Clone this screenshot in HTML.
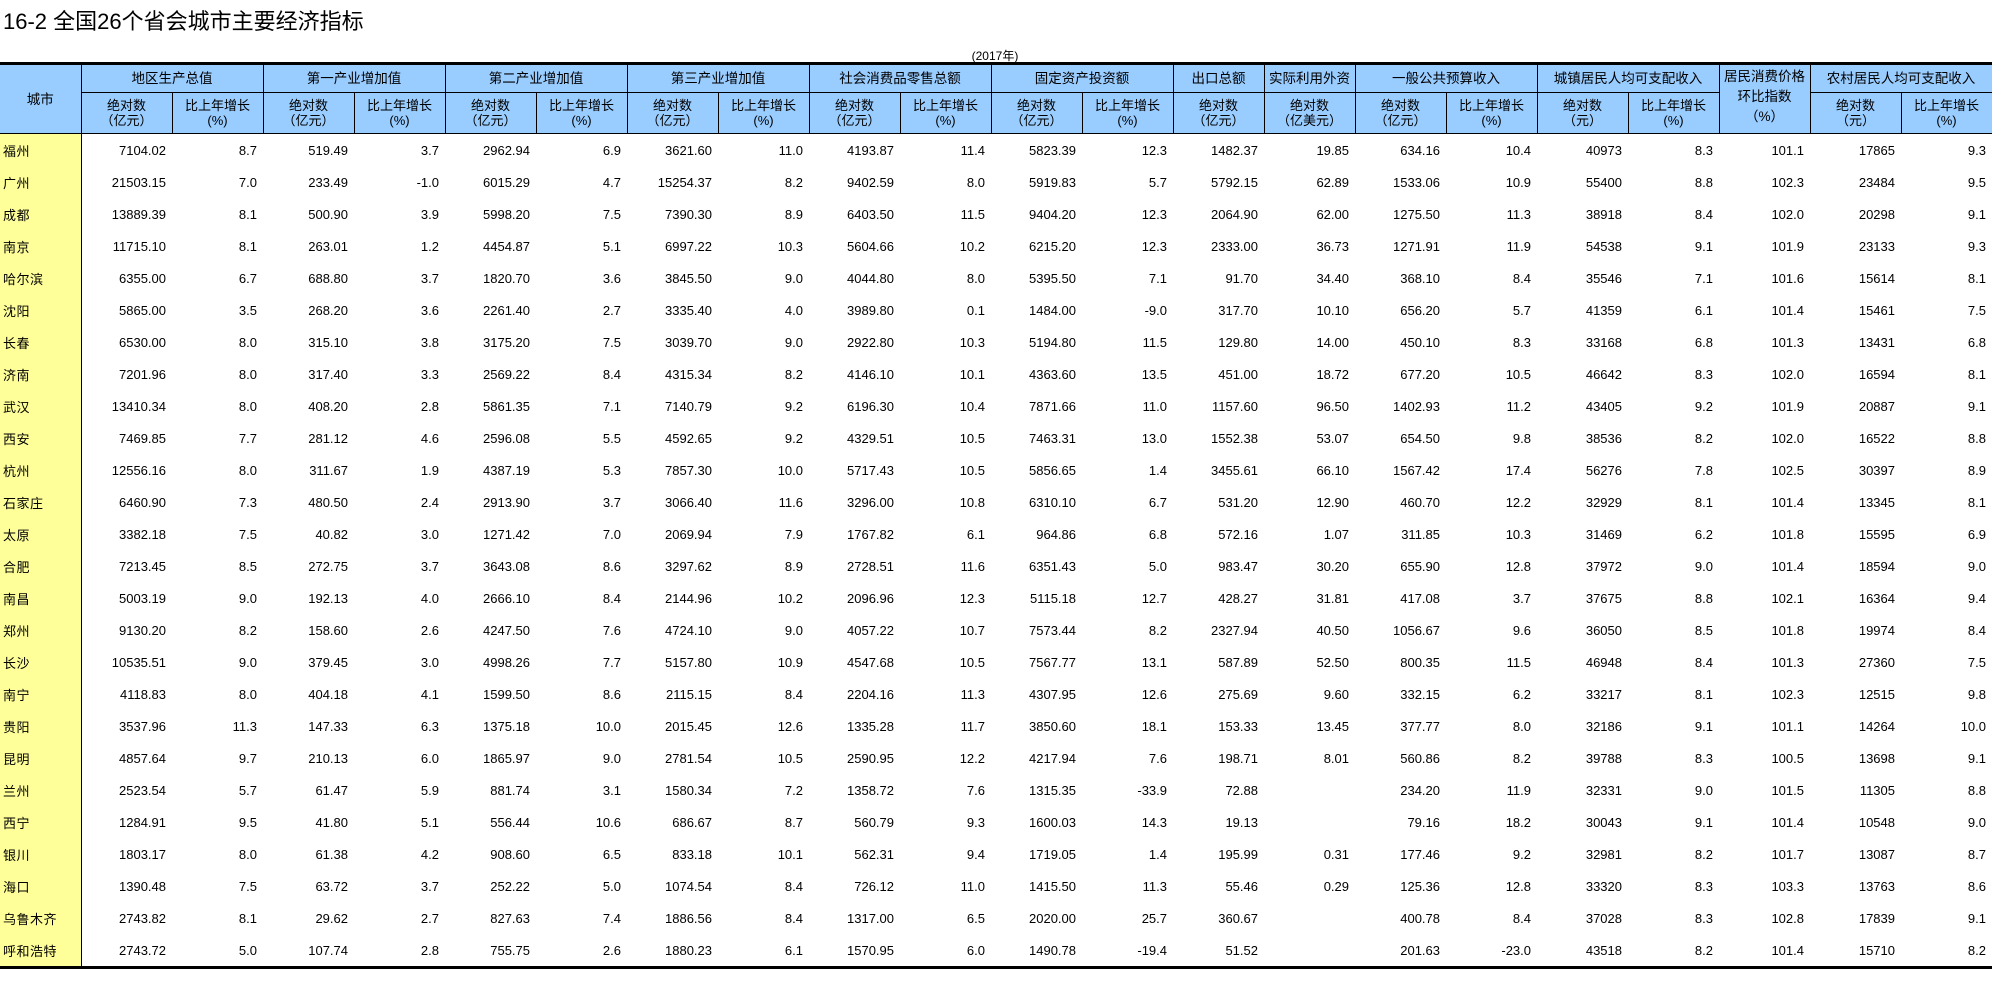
<!DOCTYPE html>
<html><head><meta charset="utf-8">
<style>
body{margin:0;background:#fff;width:1992px;height:999px;position:relative;overflow:hidden;font-family:"Liberation Sans","Noto Sans CJK SC",sans-serif;}
#title{position:absolute;left:3px;top:8px;font-size:22px;line-height:27px;color:#000;}
#yr{position:absolute;left:945px;width:100px;top:48px;text-align:center;font-size:12px;line-height:16px;}
table{position:absolute;left:0;top:62px;width:1992px;border-collapse:collapse;table-layout:fixed;border-top:3px solid #000;border-bottom:3px solid #000;}
th{background:#99ccff;border:1px solid #000;font-weight:normal;font-size:13px;color:#000;padding:0;text-align:center;line-height:15px;}
tr.h1 th{height:27px;font-size:13.5px;}
tr.h2 th{height:40px;}
th.cpi{vertical-align:top;line-height:20px;padding-top:2px;}
td{height:32px;padding:0 6px 0 0;text-align:right;font-size:13px;border:none;white-space:nowrap;}
td:first-child{background:#ffff99;text-align:left;padding:0 0 0 3px;border-right:1px solid #000;font-size:13px;letter-spacing:0.5px;}
tr.h1 th:first-child{border-left:none;}
</style></head><body>
<div id="title">16-2 全国26个省会城市主要经济指标</div>
<div id="yr">(2017年)</div>
<table>
<colgroup><col style="width:81px"><col span="21" style="width:91px"></colgroup>
<tr class="h1"><th rowspan="2">城市</th><th colspan="2">地区生产总值</th><th colspan="2">第一产业增加值</th><th colspan="2">第二产业增加值</th><th colspan="2">第三产业增加值</th><th colspan="2">社会消费品零售总额</th><th colspan="2">固定资产投资额</th><th>出口总额</th><th>实际利用外资</th><th colspan="2">一般公共预算收入</th><th colspan="2">城镇居民人均可支配收入</th><th rowspan="2" class="cpi">居民消费价格<br>环比指数<br>（%）</th><th colspan="2">农村居民人均可支配收入</th></tr>
<tr class="h2"><th>绝对数<br>（亿元）</th><th>比上年增长<br>(%)</th><th>绝对数<br>（亿元）</th><th>比上年增长<br>(%)</th><th>绝对数<br>（亿元）</th><th>比上年增长<br>(%)</th><th>绝对数<br>（亿元）</th><th>比上年增长<br>(%)</th><th>绝对数<br>（亿元）</th><th>比上年增长<br>(%)</th><th>绝对数<br>（亿元）</th><th>比上年增长<br>(%)</th><th>绝对数<br>（亿元）</th><th>绝对数<br>（亿美元）</th><th>绝对数<br>（亿元）</th><th>比上年增长<br>(%)</th><th>绝对数<br>（元）</th><th>比上年增长<br>(%)</th><th>绝对数<br>（元）</th><th>比上年增长<br>(%)</th></tr>
<tr><td>福州</td><td>7104.02</td><td>8.7</td><td>519.49</td><td>3.7</td><td>2962.94</td><td>6.9</td><td>3621.60</td><td>11.0</td><td>4193.87</td><td>11.4</td><td>5823.39</td><td>12.3</td><td>1482.37</td><td>19.85</td><td>634.16</td><td>10.4</td><td>40973</td><td>8.3</td><td>101.1</td><td>17865</td><td>9.3</td></tr>
<tr><td>广州</td><td>21503.15</td><td>7.0</td><td>233.49</td><td>-1.0</td><td>6015.29</td><td>4.7</td><td>15254.37</td><td>8.2</td><td>9402.59</td><td>8.0</td><td>5919.83</td><td>5.7</td><td>5792.15</td><td>62.89</td><td>1533.06</td><td>10.9</td><td>55400</td><td>8.8</td><td>102.3</td><td>23484</td><td>9.5</td></tr>
<tr><td>成都</td><td>13889.39</td><td>8.1</td><td>500.90</td><td>3.9</td><td>5998.20</td><td>7.5</td><td>7390.30</td><td>8.9</td><td>6403.50</td><td>11.5</td><td>9404.20</td><td>12.3</td><td>2064.90</td><td>62.00</td><td>1275.50</td><td>11.3</td><td>38918</td><td>8.4</td><td>102.0</td><td>20298</td><td>9.1</td></tr>
<tr><td>南京</td><td>11715.10</td><td>8.1</td><td>263.01</td><td>1.2</td><td>4454.87</td><td>5.1</td><td>6997.22</td><td>10.3</td><td>5604.66</td><td>10.2</td><td>6215.20</td><td>12.3</td><td>2333.00</td><td>36.73</td><td>1271.91</td><td>11.9</td><td>54538</td><td>9.1</td><td>101.9</td><td>23133</td><td>9.3</td></tr>
<tr><td>哈尔滨</td><td>6355.00</td><td>6.7</td><td>688.80</td><td>3.7</td><td>1820.70</td><td>3.6</td><td>3845.50</td><td>9.0</td><td>4044.80</td><td>8.0</td><td>5395.50</td><td>7.1</td><td>91.70</td><td>34.40</td><td>368.10</td><td>8.4</td><td>35546</td><td>7.1</td><td>101.6</td><td>15614</td><td>8.1</td></tr>
<tr><td>沈阳</td><td>5865.00</td><td>3.5</td><td>268.20</td><td>3.6</td><td>2261.40</td><td>2.7</td><td>3335.40</td><td>4.0</td><td>3989.80</td><td>0.1</td><td>1484.00</td><td>-9.0</td><td>317.70</td><td>10.10</td><td>656.20</td><td>5.7</td><td>41359</td><td>6.1</td><td>101.4</td><td>15461</td><td>7.5</td></tr>
<tr><td>长春</td><td>6530.00</td><td>8.0</td><td>315.10</td><td>3.8</td><td>3175.20</td><td>7.5</td><td>3039.70</td><td>9.0</td><td>2922.80</td><td>10.3</td><td>5194.80</td><td>11.5</td><td>129.80</td><td>14.00</td><td>450.10</td><td>8.3</td><td>33168</td><td>6.8</td><td>101.3</td><td>13431</td><td>6.8</td></tr>
<tr><td>济南</td><td>7201.96</td><td>8.0</td><td>317.40</td><td>3.3</td><td>2569.22</td><td>8.4</td><td>4315.34</td><td>8.2</td><td>4146.10</td><td>10.1</td><td>4363.60</td><td>13.5</td><td>451.00</td><td>18.72</td><td>677.20</td><td>10.5</td><td>46642</td><td>8.3</td><td>102.0</td><td>16594</td><td>8.1</td></tr>
<tr><td>武汉</td><td>13410.34</td><td>8.0</td><td>408.20</td><td>2.8</td><td>5861.35</td><td>7.1</td><td>7140.79</td><td>9.2</td><td>6196.30</td><td>10.4</td><td>7871.66</td><td>11.0</td><td>1157.60</td><td>96.50</td><td>1402.93</td><td>11.2</td><td>43405</td><td>9.2</td><td>101.9</td><td>20887</td><td>9.1</td></tr>
<tr><td>西安</td><td>7469.85</td><td>7.7</td><td>281.12</td><td>4.6</td><td>2596.08</td><td>5.5</td><td>4592.65</td><td>9.2</td><td>4329.51</td><td>10.5</td><td>7463.31</td><td>13.0</td><td>1552.38</td><td>53.07</td><td>654.50</td><td>9.8</td><td>38536</td><td>8.2</td><td>102.0</td><td>16522</td><td>8.8</td></tr>
<tr><td>杭州</td><td>12556.16</td><td>8.0</td><td>311.67</td><td>1.9</td><td>4387.19</td><td>5.3</td><td>7857.30</td><td>10.0</td><td>5717.43</td><td>10.5</td><td>5856.65</td><td>1.4</td><td>3455.61</td><td>66.10</td><td>1567.42</td><td>17.4</td><td>56276</td><td>7.8</td><td>102.5</td><td>30397</td><td>8.9</td></tr>
<tr><td>石家庄</td><td>6460.90</td><td>7.3</td><td>480.50</td><td>2.4</td><td>2913.90</td><td>3.7</td><td>3066.40</td><td>11.6</td><td>3296.00</td><td>10.8</td><td>6310.10</td><td>6.7</td><td>531.20</td><td>12.90</td><td>460.70</td><td>12.2</td><td>32929</td><td>8.1</td><td>101.4</td><td>13345</td><td>8.1</td></tr>
<tr><td>太原</td><td>3382.18</td><td>7.5</td><td>40.82</td><td>3.0</td><td>1271.42</td><td>7.0</td><td>2069.94</td><td>7.9</td><td>1767.82</td><td>6.1</td><td>964.86</td><td>6.8</td><td>572.16</td><td>1.07</td><td>311.85</td><td>10.3</td><td>31469</td><td>6.2</td><td>101.8</td><td>15595</td><td>6.9</td></tr>
<tr><td>合肥</td><td>7213.45</td><td>8.5</td><td>272.75</td><td>3.7</td><td>3643.08</td><td>8.6</td><td>3297.62</td><td>8.9</td><td>2728.51</td><td>11.6</td><td>6351.43</td><td>5.0</td><td>983.47</td><td>30.20</td><td>655.90</td><td>12.8</td><td>37972</td><td>9.0</td><td>101.4</td><td>18594</td><td>9.0</td></tr>
<tr><td>南昌</td><td>5003.19</td><td>9.0</td><td>192.13</td><td>4.0</td><td>2666.10</td><td>8.4</td><td>2144.96</td><td>10.2</td><td>2096.96</td><td>12.3</td><td>5115.18</td><td>12.7</td><td>428.27</td><td>31.81</td><td>417.08</td><td>3.7</td><td>37675</td><td>8.8</td><td>102.1</td><td>16364</td><td>9.4</td></tr>
<tr><td>郑州</td><td>9130.20</td><td>8.2</td><td>158.60</td><td>2.6</td><td>4247.50</td><td>7.6</td><td>4724.10</td><td>9.0</td><td>4057.22</td><td>10.7</td><td>7573.44</td><td>8.2</td><td>2327.94</td><td>40.50</td><td>1056.67</td><td>9.6</td><td>36050</td><td>8.5</td><td>101.8</td><td>19974</td><td>8.4</td></tr>
<tr><td>长沙</td><td>10535.51</td><td>9.0</td><td>379.45</td><td>3.0</td><td>4998.26</td><td>7.7</td><td>5157.80</td><td>10.9</td><td>4547.68</td><td>10.5</td><td>7567.77</td><td>13.1</td><td>587.89</td><td>52.50</td><td>800.35</td><td>11.5</td><td>46948</td><td>8.4</td><td>101.3</td><td>27360</td><td>7.5</td></tr>
<tr><td>南宁</td><td>4118.83</td><td>8.0</td><td>404.18</td><td>4.1</td><td>1599.50</td><td>8.6</td><td>2115.15</td><td>8.4</td><td>2204.16</td><td>11.3</td><td>4307.95</td><td>12.6</td><td>275.69</td><td>9.60</td><td>332.15</td><td>6.2</td><td>33217</td><td>8.1</td><td>102.3</td><td>12515</td><td>9.8</td></tr>
<tr><td>贵阳</td><td>3537.96</td><td>11.3</td><td>147.33</td><td>6.3</td><td>1375.18</td><td>10.0</td><td>2015.45</td><td>12.6</td><td>1335.28</td><td>11.7</td><td>3850.60</td><td>18.1</td><td>153.33</td><td>13.45</td><td>377.77</td><td>8.0</td><td>32186</td><td>9.1</td><td>101.1</td><td>14264</td><td>10.0</td></tr>
<tr><td>昆明</td><td>4857.64</td><td>9.7</td><td>210.13</td><td>6.0</td><td>1865.97</td><td>9.0</td><td>2781.54</td><td>10.5</td><td>2590.95</td><td>12.2</td><td>4217.94</td><td>7.6</td><td>198.71</td><td>8.01</td><td>560.86</td><td>8.2</td><td>39788</td><td>8.3</td><td>100.5</td><td>13698</td><td>9.1</td></tr>
<tr><td>兰州</td><td>2523.54</td><td>5.7</td><td>61.47</td><td>5.9</td><td>881.74</td><td>3.1</td><td>1580.34</td><td>7.2</td><td>1358.72</td><td>7.6</td><td>1315.35</td><td>-33.9</td><td>72.88</td><td></td><td>234.20</td><td>11.9</td><td>32331</td><td>9.0</td><td>101.5</td><td>11305</td><td>8.8</td></tr>
<tr><td>西宁</td><td>1284.91</td><td>9.5</td><td>41.80</td><td>5.1</td><td>556.44</td><td>10.6</td><td>686.67</td><td>8.7</td><td>560.79</td><td>9.3</td><td>1600.03</td><td>14.3</td><td>19.13</td><td></td><td>79.16</td><td>18.2</td><td>30043</td><td>9.1</td><td>101.4</td><td>10548</td><td>9.0</td></tr>
<tr><td>银川</td><td>1803.17</td><td>8.0</td><td>61.38</td><td>4.2</td><td>908.60</td><td>6.5</td><td>833.18</td><td>10.1</td><td>562.31</td><td>9.4</td><td>1719.05</td><td>1.4</td><td>195.99</td><td>0.31</td><td>177.46</td><td>9.2</td><td>32981</td><td>8.2</td><td>101.7</td><td>13087</td><td>8.7</td></tr>
<tr><td>海口</td><td>1390.48</td><td>7.5</td><td>63.72</td><td>3.7</td><td>252.22</td><td>5.0</td><td>1074.54</td><td>8.4</td><td>726.12</td><td>11.0</td><td>1415.50</td><td>11.3</td><td>55.46</td><td>0.29</td><td>125.36</td><td>12.8</td><td>33320</td><td>8.3</td><td>103.3</td><td>13763</td><td>8.6</td></tr>
<tr><td>乌鲁木齐</td><td>2743.82</td><td>8.1</td><td>29.62</td><td>2.7</td><td>827.63</td><td>7.4</td><td>1886.56</td><td>8.4</td><td>1317.00</td><td>6.5</td><td>2020.00</td><td>25.7</td><td>360.67</td><td></td><td>400.78</td><td>8.4</td><td>37028</td><td>8.3</td><td>102.8</td><td>17839</td><td>9.1</td></tr>
<tr><td>呼和浩特</td><td>2743.72</td><td>5.0</td><td>107.74</td><td>2.8</td><td>755.75</td><td>2.6</td><td>1880.23</td><td>6.1</td><td>1570.95</td><td>6.0</td><td>1490.78</td><td>-19.4</td><td>51.52</td><td></td><td>201.63</td><td>-23.0</td><td>43518</td><td>8.2</td><td>101.4</td><td>15710</td><td>8.2</td></tr>
</table>
</body></html>
